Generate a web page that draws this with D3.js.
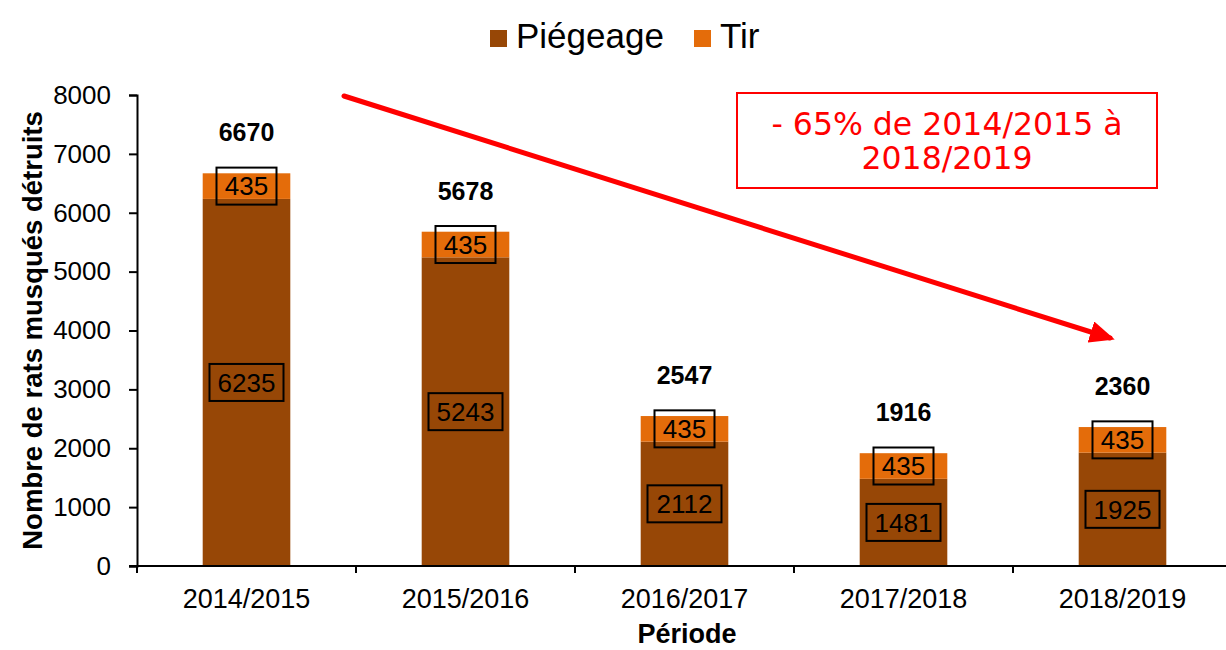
<!DOCTYPE html>
<html><head><meta charset="utf-8">
<script src="https://cdn.jsdelivr.net/npm/d3@7"></script>
<style>body{margin:0;background:#fff}svg{display:block}</style>
</head><body><svg id="c" width="1226" height="650" font-family="Liberation Sans, Arial, sans-serif"></svg>
<script>
const categories = ["2014/2015","2015/2016","2016/2017","2017/2018","2018/2019"];
const piegeage = [6235,5243,2112,1481,1925];
const tir = [435,435,435,435,435];
const totals = [6670,5678,2547,1916,2360];
const yTicks = [0,1000,2000,3000,4000,5000,6000,7000,8000];
const seriesNames = ["Piégeage","Tir"];
const colors = ["#974706","#E46C0A"];
const annotationLines = ["- 65% de 2014/2015 à","2018/2019"];

(function(){
const svg = d3.select("#c");
const mLeft = 137, mBottom = 566, mTop = 95;
const x = d3.scaleBand().domain(categories).range([mLeft, 1232]).paddingInner(0.6).paddingOuter(0.3);
const y = d3.scaleLinear().domain([0, 8000]).range([mBottom, mTop]);
const step = x.step();

// bars
const g = svg.append("g");
categories.forEach((c, i) => {
  g.append("rect").attr("x", x(c)).attr("width", x.bandwidth())
    .attr("y", y(piegeage[i])).attr("height", y(0) - y(piegeage[i])).attr("fill", colors[0]);
  g.append("rect").attr("x", x(c)).attr("width", x.bandwidth())
    .attr("y", y(piegeage[i] + tir[i])).attr("height", y(piegeage[i]) - y(piegeage[i] + tir[i])).attr("fill", colors[1]);
});

// y axis
const ya = svg.append("g").attr("transform", `translate(${mLeft},0)`)
  .call(d3.axisLeft(y).tickValues(yTicks).tickSize(8).tickPadding(18).tickFormat(d3.format("d")));
ya.attr("font-family", "Liberation Sans, Arial, sans-serif");
ya.select(".domain").attr("stroke", "#000").attr("stroke-width", 2);
ya.selectAll(".tick line").attr("stroke", "#000").attr("stroke-width", 2);
ya.selectAll(".tick text").attr("font-size", 26).attr("fill", "#000");

// x axis
const xa = svg.append("g").attr("transform", `translate(0,${mBottom})`)
  .call(d3.axisBottom(x).tickSize(0).tickPadding(0));
xa.attr("font-family", "Liberation Sans, Arial, sans-serif");
xa.select(".domain").remove();
xa.selectAll(".tick text").attr("font-size", 27).attr("fill", "#000").attr("dy", null).attr("y", 42);
svg.append("line").attr("x1", mLeft - 8).attr("x2", 1226).attr("y1", mBottom).attr("y2", mBottom).attr("stroke", "#000").attr("stroke-width", 2);
categories.forEach((c, i) => {
  const tx = x(c) - step * x.paddingInner() / 2;
  svg.append("line").attr("x1", tx).attr("x2", tx).attr("y1", mBottom).attr("y2", mBottom + 7).attr("stroke", "#000").attr("stroke-width", 2);
});

// labels with boxes
function boxLabel(cx, cy, txt) {
  const w = txt.length === 3 ? 60 : 74, h = 37;
  svg.append("rect").attr("x", cx - w / 2).attr("y", cy - h / 2).attr("width", w).attr("height", h)
    .attr("fill", "none").attr("stroke", "#000").attr("stroke-width", 2);
  svg.append("text").attr("x", cx).attr("y", cy).attr("dy", "0.36em").attr("text-anchor", "middle")
    .attr("font-size", 26).attr("fill", "#000").text(txt);
}
categories.forEach((c, i) => {
  const cx = x(c) + x.bandwidth() / 2;
  boxLabel(cx, y(piegeage[i] / 2), String(piegeage[i]));
  boxLabel(cx, y(piegeage[i] + tir[i] / 2), String(tir[i]));
  svg.append("text").attr("x", cx).attr("y", y(totals[i]) - 32).attr("text-anchor", "middle")
    .attr("font-size", 25).attr("font-weight", "bold").attr("fill", "#000").text(totals[i]);
});

// axis titles
svg.append("text").attr("transform", `translate(42,${(mTop + mBottom) / 2}) rotate(-90)`).attr("text-anchor", "middle")
  .attr("font-size", 27.5).attr("font-weight", "bold").attr("fill", "#000").text("Nombre de rats musqués détruits");
svg.append("text").attr("x", 687).attr("y", 643).attr("text-anchor", "middle")
  .attr("font-size", 27).attr("font-weight", "bold").attr("fill", "#000").text("Période");

// legend
const lg = svg.append("g");
lg.append("rect").attr("x", 490).attr("y", 30).attr("width", 17).attr("height", 17).attr("fill", colors[0]);
lg.append("text").attr("x", 516).attr("y", 48).attr("font-size", 35).attr("fill", "#000").text(seriesNames[0]);
lg.append("rect").attr("x", 694).attr("y", 30).attr("width", 17).attr("height", 17).attr("fill", colors[1]);
lg.append("text").attr("x", 720).attr("y", 48).attr("font-size", 35).attr("fill", "#000").text(seriesNames[1]);

// trend arrow
const defs = svg.append("defs");
defs.append("marker").attr("id", "ah").attr("viewBox", "0 0 10 10").attr("refX", 8).attr("refY", 5)
  .attr("markerWidth", 5).attr("markerHeight", 4.4).attr("markerUnits", "strokeWidth").attr("orient", "auto")
  .attr("preserveAspectRatio", "none")
  .append("path").attr("d", "M0,0 L10,5 L0,10 z").attr("fill", "#FF0000");
svg.append("line").attr("x1", 344).attr("y1", 96).attr("x2", 1110).attr("y2", 338)
  .attr("stroke", "#FF0000").attr("stroke-width", 5).attr("stroke-linecap", "round").attr("marker-end", "url(#ah)");

// annotation box
svg.append("rect").attr("x", 737).attr("y", 93).attr("width", 420).attr("height", 95)
  .attr("fill", "#fff").attr("stroke", "#FF0000").attr("stroke-width", 2);
annotationLines.forEach((t, i) => {
  svg.append("text").attr("x", 947).attr("y", 135 + i * 34).attr("text-anchor", "middle")
    .attr("font-family", "DejaVu Sans, sans-serif").attr("font-size", 31.5)
    .attr("fill", "#FF0000").text(t);
});
})();
</script></body></html>
